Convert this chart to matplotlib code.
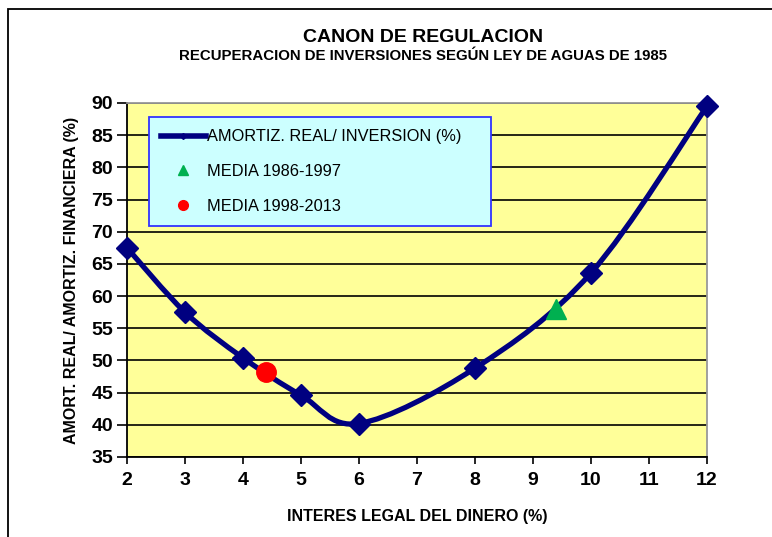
import numpy as np
import matplotlib
matplotlib.use("Agg")
import matplotlib.pyplot as plt
from matplotlib.path import Path
from matplotlib.patches import PathPatch, Rectangle
from matplotlib.lines import Line2D

# data
interes = [2, 3, 4, 5, 6, 8, 10, 12]
amortiz = [67.5, 57.5, 50.4, 44.6, 40.2, 48.8, 63.6, 89.5]
media_86_97 = (9.4, 58.0)
media_98_13 = (4.4, 48.2)

x_ticks = list(range(2, 13))
y_ticks = list(range(35, 91, 5))

NARROW = ['Liberation Sans Narrow', 'Liberation Sans', 'DejaVu Sans']
ARIAL = ['Liberation Sans', 'DejaVu Sans']


def smooth_path(xs, ys):
    # excel-like smoothed line: cubic bezier through the points
    pts = np.column_stack([xs, ys]).astype(float)
    ext = np.vstack([pts[0], pts, pts[-1]])
    verts = [pts[0]]
    codes = [Path.MOVETO]
    for i in range(len(pts) - 1):
        p0, p1, p2, p3 = ext[i], ext[i + 1], ext[i + 2], ext[i + 3]
        c1 = p1 + (p2 - p0) / 6
        c2 = p2 - (p3 - p1) / 6
        verts += [c1, c2, p2]
        codes += [Path.CURVE4] * 3
    return Path(verts, codes)


fig = plt.figure(figsize=(7.72, 5.37), dpi=100)
ax = fig.add_axes([0.1645, 0.149, 0.7513, 0.6592])
ax.set_facecolor('#FFFF99')

navy = '#000080'
ax.add_patch(PathPatch(smooth_path(interes, amortiz), fill=False,
                       edgecolor=navy, lw=3.8, capstyle='round', zorder=3))
ax.plot(interes, amortiz, 'D', color=navy, ms=11.5, zorder=4, clip_on=False)
ax.plot(*media_86_97, '^', color='#00B050', ms=15, zorder=5)
ax.plot(*media_98_13, 'o', color='#FF0000', ms=14, zorder=5)

ax.set_xlim(2, 12)
ax.set_ylim(35, 90)
ax.set_xticks(x_ticks)
ax.set_yticks(y_ticks)
ax.grid(axis='y', color='black', lw=1.2)
ax.set_axisbelow(True)
for lab in ax.get_xticklabels() + ax.get_yticklabels():
    lab.set_family(NARROW)
    lab.set_fontweight('bold')
    lab.set_fontsize(14)
ax.tick_params(axis='y', length=7, width=1.2, direction='out', pad=3)
ax.tick_params(axis='x', length=5, width=1.2, direction='out', pad=6)
ax.spines['left'].set_linewidth(1.3)
ax.spines['bottom'].set_linewidth(1.3)
for s in ['top', 'right']:
    ax.spines[s].set_color('#999999')
    ax.spines[s].set_linewidth(1.3)

ax.set_xlabel('INTERES LEGAL DEL DINERO (%)', family=NARROW,
              fontweight='bold', fontsize=11.5, labelpad=14)
ax.set_ylabel('AMORT. REAL/ AMORTIZ. FINANCIERA (%)', family=NARROW,
              fontweight='bold', fontsize=11.5, labelpad=9)

fig.text(0.548, 0.930, 'CANON DE REGULACION', family=NARROW,
         fontweight='bold', fontsize=14, ha='center', va='center')
fig.text(0.548, 0.895, 'RECUPERACION DE INVERSIONES SEGÚN LEY DE AGUAS DE 1985',
         family=NARROW, fontweight='bold', fontsize=10.8, ha='center', va='center')

handles = [
    Line2D([], [], color=navy, lw=4, marker='D', ms=3),
    Line2D([], [], color='#00B050', marker='^', ls='none', ms=7),
    Line2D([], [], color='#FF0000', marker='o', ls='none', ms=7),
]
labels = ['AMORTIZ. REAL/ INVERSION (%)', 'MEDIA 1986-1997', 'MEDIA 1998-2013']
leg = ax.legend(handles, labels, loc='upper left',
                bbox_to_anchor=(0.038, 0.96, 0.59, 0.0), mode='expand',
                prop={'family': ARIAL, 'size': 11.8}, frameon=True,
                fancybox=False, handlelength=2.7, handletextpad=0.1,
                labelspacing=1.2, borderpad=0.75, borderaxespad=0)
leg.get_frame().set_facecolor('#CCFFFF')
leg.get_frame().set_edgecolor('#3333FF')
leg.get_frame().set_linewidth(1.3)
leg.get_frame().set_alpha(1)

# outer chart frame (partially cropped in the original)
fig.add_artist(Rectangle((8 / 772, -0.1), 1.2, 1 - 9 / 537 + 0.1,
                         transform=fig.transFigure, fill=False,
                         edgecolor='black', lw=1.3))

fig.savefig('out.png', dpi=100)
